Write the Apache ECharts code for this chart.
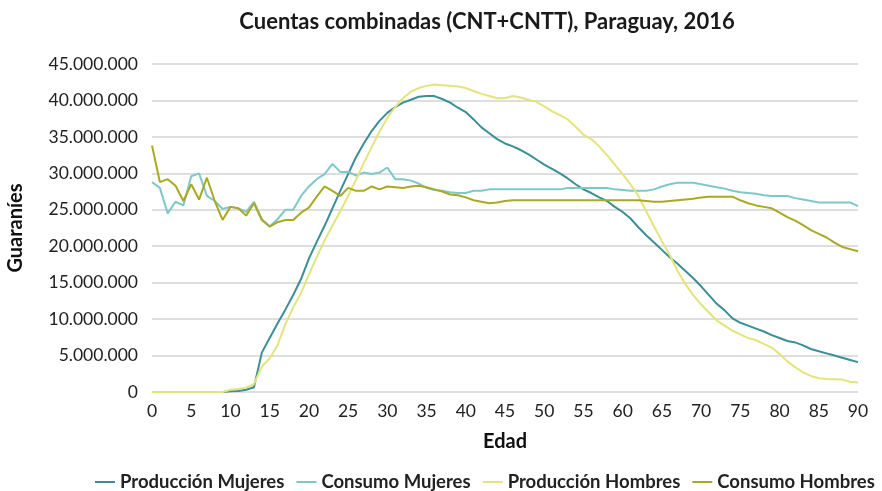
<!DOCTYPE html>
<html>
<head>
    <meta charset="utf-8">
    <title>Cuentas combinadas (CNT+CNTT), Paraguay, 2016</title>
    <script src="https://cdn.jsdelivr.net/npm/echarts@6/dist/echarts.min.js"></script>
    <style>
        html, body { margin: 0; padding: 0; background: #fff; }
        #chart1 { width: 882px; height: 491px; }
    </style>
</head>
<body>
<div id="chart1"></div>
<script type="text/javascript">
// edades 0..90
var edades = Array.from({ length: 91 }, function (_, i) { return String(i); });

// valores en millones de guaraníes
var produccionMujeres = [
    0, 0, 0, 0, 0, 0, 0, 0, 0, 0,
    0.1, 0.15, 0.3, 0.65, 5.4, 7.4, 9.4, 11.3, 13.3, 15.5,
    18.3, 20.6, 22.8, 25.2, 27.6, 29.9, 32.2, 34.1, 35.8, 37.2,
    38.3, 39.1, 39.7, 40.1, 40.5, 40.6, 40.6, 40.2, 39.7, 39.0,
    38.4, 37.4, 36.3, 35.5, 34.7, 34.1, 33.7, 33.2, 32.6, 31.9,
    31.2, 30.6, 30.0, 29.3, 28.5, 27.8, 27.3, 26.7, 26.2, 25.4,
    24.7, 23.8, 22.6, 21.5, 20.5, 19.5, 18.5, 17.6, 16.6, 15.6,
    14.5, 13.3, 12.1, 11.2, 10.1, 9.5, 9.1, 8.7, 8.3, 7.8,
    7.4, 7.0, 6.8, 6.4, 5.9, 5.6, 5.3, 5.0, 4.7, 4.4,
    4.1
];
var consumoMujeres = [
    28.8, 28.0, 24.5, 26.1, 25.6, 29.6, 30.0, 26.9, 26.2, 25.1,
    25.4, 25.2, 24.7, 26.1, 23.7, 22.7, 23.7, 25.0, 25.0, 26.9,
    28.2, 29.2, 29.9, 31.3, 30.2, 30.2, 29.7, 30.1, 29.9, 30.1,
    30.8, 29.2, 29.2, 29.0, 28.6, 28.0, 27.7, 27.6, 27.4, 27.3,
    27.3, 27.6, 27.6, 27.8, 27.8, 27.8, 27.8, 27.8, 27.8, 27.8,
    27.8, 27.8, 27.8, 28.0, 28.0, 28.0, 28.0, 28.0, 28.0, 27.8,
    27.7, 27.6, 27.6, 27.6, 27.8, 28.2, 28.5, 28.7, 28.7, 28.7,
    28.5, 28.3, 28.1, 27.9, 27.6, 27.4, 27.3, 27.2, 27.0, 26.9,
    26.9, 26.9, 26.6, 26.4, 26.2, 26.0, 26.0, 26.0, 26.0, 26.0,
    25.5
];
var produccionHombres = [
    0, 0, 0, 0, 0, 0, 0, 0, 0, 0,
    0.3, 0.4, 0.6, 1.1, 3.5, 4.6, 6.4, 9.3, 11.6, 13.6,
    16.1, 18.5, 20.8, 22.8, 24.8, 26.9, 29.1, 31.4, 33.6, 35.7,
    37.6, 39.1, 40.3, 41.2, 41.7, 42.0, 42.2, 42.1, 42.0, 41.9,
    41.7, 41.3, 40.9, 40.6, 40.3, 40.3, 40.6, 40.4, 40.1, 39.8,
    39.2, 38.5, 38.0, 37.4, 36.4, 35.3, 34.7, 33.7, 32.5, 31.2,
    29.9, 28.5, 26.9, 24.8, 22.7, 20.7, 18.8, 16.6, 14.8, 13.3,
    12.0, 10.9, 9.8, 9.1, 8.4, 7.9, 7.4, 7.1, 6.6, 6.1,
    5.2, 4.2, 3.4, 2.7, 2.2, 1.9, 1.8, 1.75, 1.7, 1.4,
    1.3
];
var consumoHombres = [
    33.8, 28.8, 29.2, 28.3, 26.2, 28.5, 26.4, 29.4, 26.2, 23.6,
    25.4, 25.2, 24.2, 25.9, 23.6, 22.7, 23.3, 23.6, 23.6, 24.6,
    25.3, 26.8, 28.2, 27.6, 26.9, 28.0, 27.6, 27.6, 28.2, 27.8,
    28.2, 28.1, 28.0, 28.2, 28.3, 28.1, 27.8, 27.5, 27.1, 27.0,
    26.7, 26.3, 26.1, 25.9, 26.0, 26.2, 26.3, 26.3, 26.3, 26.3,
    26.3, 26.3, 26.3, 26.3, 26.3, 26.3, 26.3, 26.3, 26.3, 26.3,
    26.3, 26.3, 26.3, 26.2, 26.1, 26.1, 26.2, 26.3, 26.4, 26.5,
    26.7, 26.8, 26.8, 26.8, 26.8, 26.3, 25.9, 25.6, 25.4, 25.2,
    24.6, 24.0, 23.5, 22.9, 22.2, 21.7, 21.2, 20.5, 19.9, 19.6,
    19.3
];

var nombres = ['Producción Mujeres', 'Consumo Mujeres', 'Producción Hombres', 'Consumo Hombres'];
var colores = ['#3b8e96', '#7fc8ca', '#e4e47c', '#a9a924'];
var datos = [produccionMujeres, consumoMujeres, produccionHombres, consumoHombres];

function miles(v) {
    return String(Math.round(v)).replace(/\B(?=(\d{3})+(?!\d))/g, '.');
}

var myChart1 = echarts.init(document.getElementById('chart1'));

myChart1.setOption({
    backgroundColor: '#ffffff',
    textStyle: { fontFamily: 'Lato' },
    title: {
        text: 'Cuentas combinadas (CNT+CNTT), Paraguay, 2016',
        left: 482,
        textAlign: 'center',
        top: 6,
        textStyle: { fontSize: 22, fontWeight: 'bold', color: '#1a1a1a' }
    },
    legend: {
        data: nombres,
        top: 466,
        left: 90,
        itemWidth: 20,
        itemHeight: 2,
        itemGap: 12,
        icon: 'rect',
        textStyle: { fontSize: 18.5, fontWeight: 'bold', color: '#222', lineHeight: 22 }
    },
    grid: { left: 152, right: 24, top: 64, bottom: 99, outerBoundsMode: 'none' },
    xAxis: {
        type: 'category',
        data: edades,
        boundaryGap: false,
        name: 'Edad',
        nameLocation: 'middle',
        nameGap: 40,
        nameMoveOverlap: false,
        nameTextStyle: { fontSize: 20, fontWeight: 'bold', color: '#111' },
        axisLine: { show: false },
        axisTick: { show: false },
        axisLabel: { interval: 4, fontSize: 17.5, color: '#222', margin: 10 }
    },
    yAxis: {
        type: 'value',
        min: 0,
        max: 45000000,
        interval: 5000000,
        name: 'Guaraníes',
        nameLocation: 'middle',
        nameGap: 126,
        nameMoveOverlap: false,
        nameTextStyle: { fontSize: 20, fontWeight: 'bold', color: '#111' },
        axisLabel: { fontSize: 17.5, color: '#222', margin: 14, formatter: miles },
        splitLine: { lineStyle: { color: '#dedede', width: 2 } }
    },
    series: nombres.map(function (n, i) {
        return {
            name: n,
            type: 'line',
            symbol: 'none',
            color: colores[i],
            lineStyle: { width: 2 },
            data: datos[i].map(function (v) { return v * 1000000; })
        };
    })
});
</script>
</body>
</html>
